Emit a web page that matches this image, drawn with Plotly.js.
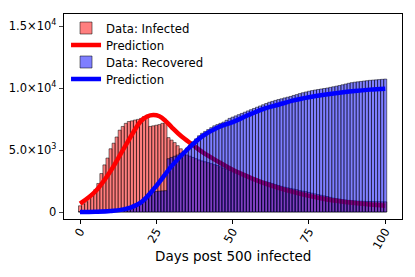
<!DOCTYPE html>
<html><head><meta charset="utf-8">
<script src="https://cdn.plot.ly/plotly-3.0.1.min.js"></script>
<style>html,body{margin:0;padding:0;background:#fff}#chart{width:415px;height:277px}</style>
</head><body><div id="chart"></div>
<script>
// Daily data (day 0..100)
const infected = [
  500, 650, 830, 1100, 1500, 1800, 2300, 3100, 3800, 4350,
  5100, 5550, 6050, 6600, 6900, 7150, 7300, 7350, 7420, 7470,
  7550, 7700, 7800, 6900, 6950, 7000, 7050, 7150, 7200, 6000,
  5800, 5600, 5350, 5100, 4700, 4600, 4500, 4400, 4300, 4200,
  4120, 4050, 3980, 3900, 3820, 3750, 3650, 3550, 3450, 3350,
  3250, 3170, 3100, 3020, 2950, 2880, 2800, 2720, 2650, 2570,
  2500, 2440, 2380, 2300, 2220, 2140, 2070, 2000, 1950, 1900,
  1850, 1800, 1720, 1680, 1640, 1580, 1520, 1460, 1400, 1350,
  1300, 1250, 1180, 1120, 1080, 1040, 1000, 970, 940, 920,
  900, 880, 870, 860, 850, 850, 840, 830, 830, 820, 820
];
const recovered = [
  20, 20, 25, 25, 30, 30, 35, 40, 40, 50,
  60, 100, 150, 200, 250, 300, 350, 350, 500, 650,
  850, 1100, 1350, 1600, 1650, 1650, 1680, 1700, 1720, 4300,
  4400, 4500, 4600, 4750, 4900, 5150, 5400, 5650, 5900, 6150,
  6350, 6500, 6650, 6800, 6950, 7050, 7150, 7250, 7400, 7550,
  7650, 7750, 7850, 7950, 8050, 8150, 8250, 8350, 8450, 8550,
  8650, 8750, 8850, 8920, 9000, 9070, 9130, 9200, 9260, 9320,
  9400, 9470, 9550, 9620, 9680, 9740, 9790, 9840, 9880, 9920,
  9960, 10000, 10050, 10100, 10150, 10200, 10260, 10320, 10380, 10430,
  10470, 10500, 10530, 10560, 10590, 10620, 10640, 10660, 10680, 10700, 10720
];
const days = infected.map((_, i) => i);

// Prediction curves
const predInfDays = [0, 5, 10, 15, 20, 22, 24, 26, 28, 30, 33, 37, 40, 45, 50, 55, 60, 65, 70, 75, 80, 85, 90, 95, 100];
const predInfected = [670, 1650, 3300, 5400, 7350, 7700, 7820, 7720, 7350, 6850, 6150, 5400, 4850, 4100, 3400, 2850, 2350, 1950, 1600, 1300, 1050, 870, 720, 600, 510];
const predRecDays = [0, 5, 10, 15, 20, 25, 30, 35, 40, 45, 50, 55, 60, 65, 70, 75, 80, 85, 90, 95, 100];
const predRecovered = [0, 20, 80, 250, 780, 2100, 3700, 5000, 6100, 6800, 7250, 7800, 8300, 8650, 9000, 9250, 9450, 9620, 9760, 9870, 9950];

const xTicks = [0, 25, 50, 75, 100];
const yTicks = [0, 5000, 10000, 15000];
const yTickText = ['0', '5.0×10<sup>3</sup>', '1.0×10<sup>4</sup>', '1.5×10<sup>4</sup>'];
const xTitle = 'Days post 500 infected';

const xRange = [-5.25, 105.5];
const yRange = [-565, 15970];

const traces = [
  {type: 'bar', x: days, y: infected, width: 1, name: 'Data: Infected', xaxis: 'x', yaxis: 'y', legend: 'legend',
   marker: {color: 'rgba(255,0,0,0.5)', line: {color: 'rgba(0,0,0,0.5)', width: 1}}},
  {type: 'scatter', mode: 'lines', x: predInfDays, y: predInfected, name: 'Prediction', xaxis: 'x', yaxis: 'y', legend: 'legend2',
   line: {color: '#ff0000', width: 4.5, shape: 'spline', smoothing: 1}},
  {type: 'bar', x: days, y: recovered, width: 1, name: 'Data: Recovered', xaxis: 'x2', yaxis: 'y2', legend: 'legend3',
   marker: {color: 'rgba(0,0,255,0.5)', line: {color: 'rgba(0,0,0,0.5)', width: 1}}},
  {type: 'scatter', mode: 'lines', x: predRecDays, y: predRecovered, name: 'Prediction', xaxis: 'x2', yaxis: 'y2', legend: 'legend4',
   line: {color: '#0000ff', width: 4.5, shape: 'spline', smoothing: 1}}
];

function leg(yPix) {
  return {x: 0.006, y: (219 - yPix) / 205, xanchor: 'left', yanchor: 'middle', bgcolor: 'rgba(0,0,0,0)',
          font: {size: 11.7}, itemwidth: 30};
}

const layout = {
  width: 415, height: 277,
  margin: {l: 64, r: 13, t: 14, b: 58},
  paper_bgcolor: '#fff', plot_bgcolor: '#fff',
  font: {family: 'DejaVu Sans', color: '#000', size: 11.5},
  barmode: 'overlay', bargap: 0,
  showlegend: true,
  legend: leg(28), legend2: leg(45), legend3: leg(62), legend4: leg(79),
  // main x axis: labels only (tick marks drawn by the overlaid axis so labels sit closer)
  xaxis: {range: xRange, tickvals: xTicks, tickangle: -60, ticks: '', ticklabelstandoff: 0,
          showline: true, mirror: true, linecolor: '#000', linewidth: 1.3, showgrid: false, zeroline: false,
          tickfont: {size: 11.5}},
  yaxis: {range: yRange, tickvals: yTicks, ticktext: yTickText, ticks: 'outside', ticklen: 4, tickwidth: 1,
          showline: true, mirror: true, linecolor: '#000', linewidth: 1.3, showgrid: false, zeroline: false,
          tickfont: {size: 11.5}},
  xaxis2: {overlaying: 'x', range: xRange, tickvals: xTicks, ticks: 'outside', ticklen: 4, tickwidth: 1,
           tickcolor: '#000', showticklabels: false, showline: false, showgrid: false, zeroline: false},
  yaxis2: {overlaying: 'y', range: yRange, visible: false},
  annotations: [{text: xTitle, xref: 'paper', yref: 'paper', x: 0.5, y: (219 - 256) / 205,
                 xanchor: 'center', yanchor: 'middle', showarrow: false, font: {size: 13.5}}]
};

Plotly.newPlot('chart', traces, layout, {displayModeBar: false, staticPlot: true});
</script>
</body></html>
